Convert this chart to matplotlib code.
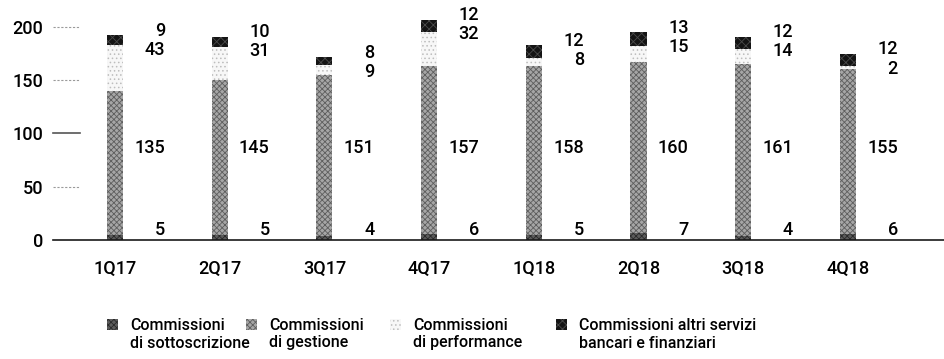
import matplotlib.pyplot as plt
import numpy as np
from matplotlib.patches import Rectangle

plt.rcParams['font.family'] = ['Roboto', 'DejaVu Sans']
plt.rcParams['font.weight'] = 'medium'
plt.rcParams['hatch.linewidth'] = 0.6

quarters = ["1Q17", "2Q17", "3Q17", "4Q17", "1Q18", "2Q18", "3Q18", "4Q18"]
sottoscrizione = [5, 5, 4, 6, 5, 7, 4, 6]
gestione = [135, 145, 151, 157, 158, 160, 161, 155]
performance = [43, 31, 9, 32, 8, 15, 14, 2]
altri = [9, 10, 8, 12, 12, 13, 12, 12]
yticks = [0, 50, 100, 150, 200]
legend_labels = ["Commissioni\ndi sottoscrizione", "Commissioni\ndi gestione",
                 "Commissioni\ndi performance", "Commissioni altri servizi\nbancari e finanziari"]

styles = [
    dict(facecolor='#5c5c5c', edgecolor='#2a2a2a', hatch='xxxxxx'),
    dict(facecolor='#a6a6a6', edgecolor='#5e5e5e', hatch='xxxxxx'),
    dict(facecolor='#f7f7f7', edgecolor='#bdbdbd', hatch='....'),
    dict(facecolor='#141414', edgecolor='#4a4a4a', hatch='xxxx'),
]

fig = plt.figure(figsize=(9.44, 3.59), dpi=100)
ax = fig.add_axes([53/944, 119/359, 891/944, 229/359])

x = np.arange(len(quarters))
w = 0.155
bottom = np.zeros(len(quarters))
for vals, st in zip([sottoscrizione, gestione, performance, altri], styles):
    ax.bar(x, vals, w, bottom=bottom, linewidth=0, **st)
    bottom += np.array(vals)

total = bottom
off = 0.478
fs = 13
for i in x:
    ax.text(i + off, 9.5, str(sottoscrizione[i]), ha='right', va='center', fontsize=fs)
    ax.text(i + off, 86, str(gestione[i]), ha='right', va='center', fontsize=fs)
    ax.text(i + off, total[i] + 4, str(altri[i]), ha='right', va='center', fontsize=fs)
    ax.text(i + off, total[i] - 14, str(performance[i]), ha='right', va='center', fontsize=fs)

ax.set_xlim(-0.592, 7.918)
ax.set_ylim(0, 215)
ax.set_xticks(x)
ax.set_xticklabels(quarters, fontsize=fs)
ax.set_yticks(yticks)
ax.set_yticklabels([str(t) for t in yticks], fontsize=fs)
ax.tick_params(axis='both', length=0)
ax.tick_params(axis='x', pad=14)
ax.tick_params(axis='y', pad=7)
for s in ['top', 'right', 'left']:
    ax.spines[s].set_visible(False)
ax.spines['bottom'].set_color('#1a1a1a')
ax.spines['bottom'].set_linewidth(1.2)

# short tick stubs
tr = ax.get_yaxis_transform()
for t in yticks[1:]:
    if t == 100:
        ax.plot([0, 0.03], [t, t], color='#555555', lw=1.2, transform=tr, clip_on=False)
    else:
        ax.plot([0, 0.03], [t, t], color='#9a9a9a', lw=0.8, ls=(0, (2, 1.5)), transform=tr, clip_on=False)

# legend
mx = [107, 246, 390, 556]
for xm, lab, st in zip(mx, legend_labels, styles):
    fig.patches.append(Rectangle((xm/944, 1 - 330/359), 11/944, 11/359,
                                 transform=fig.transFigure, linewidth=0, **st))
    fig.text((xm + 23)/944, 1 - 334/359, lab, fontsize=11.5, va='center', ha='left',
             linespacing=1.25)

fig.savefig("out.png", dpi=100)
